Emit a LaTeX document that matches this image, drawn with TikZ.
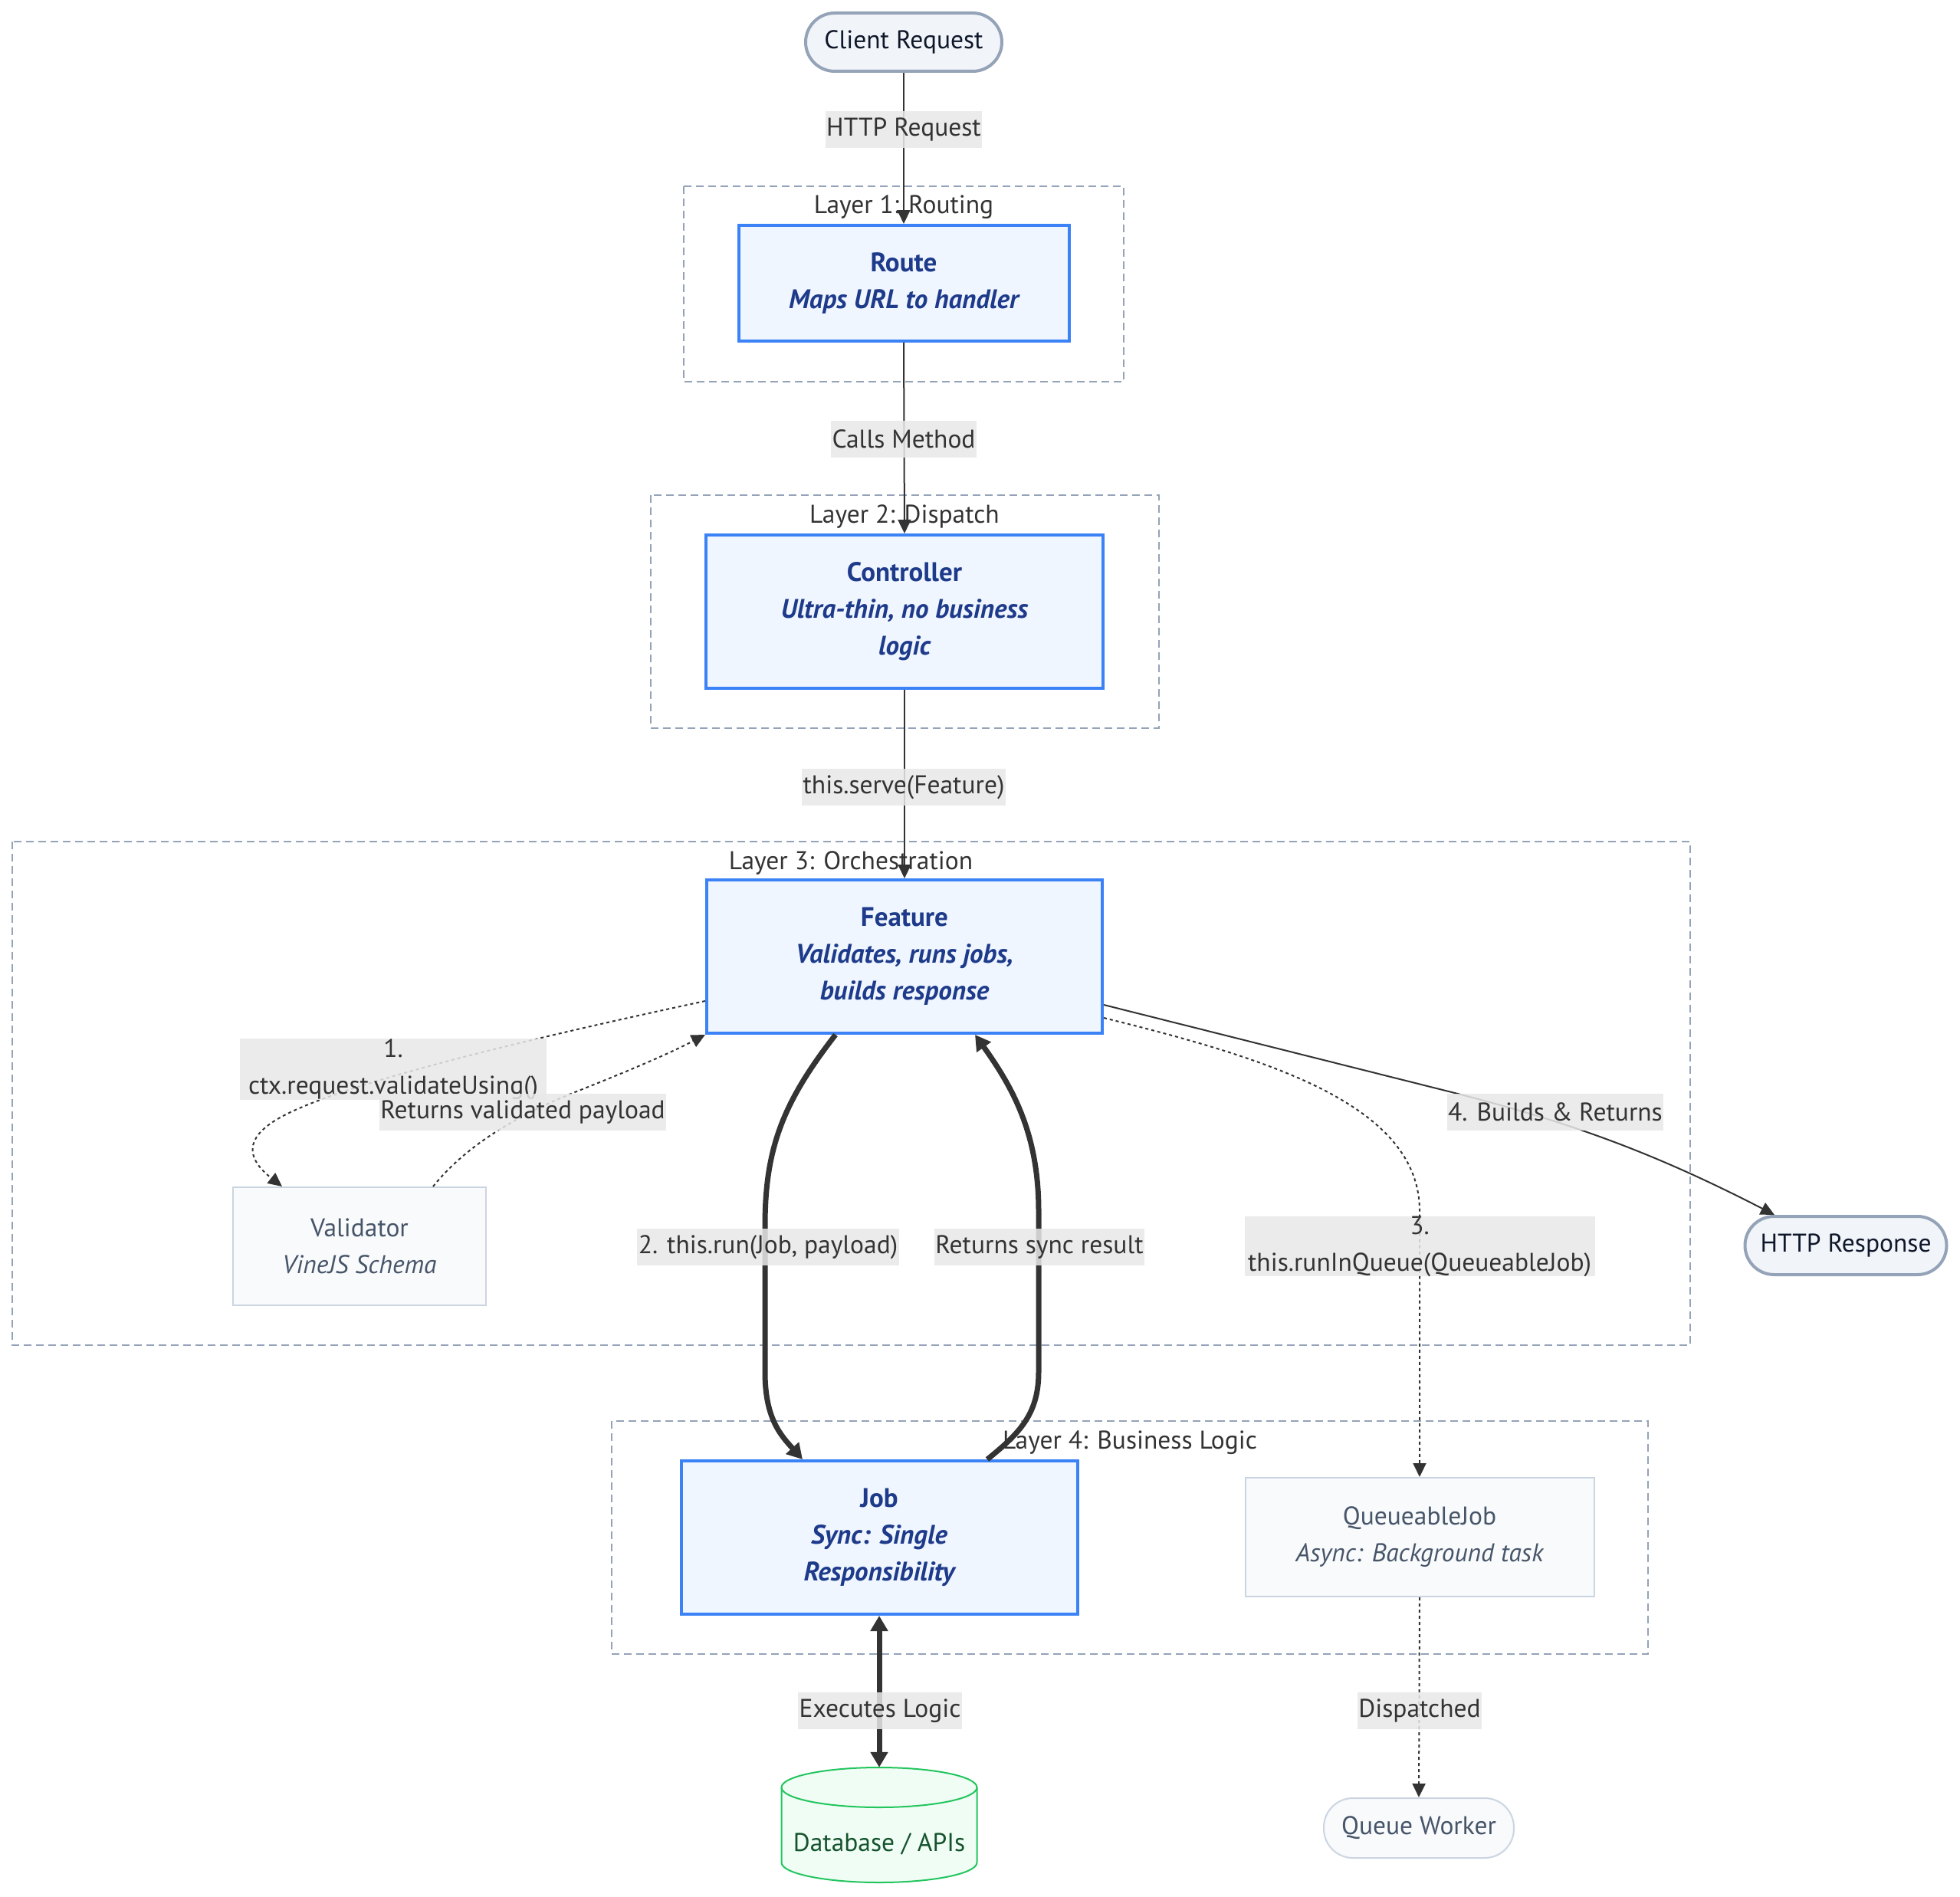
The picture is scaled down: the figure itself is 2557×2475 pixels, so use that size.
\documentclass[tikz,border=0pt]{standalone}
\usepackage{fontspec}
\setmainfont{PT Sans}
\usetikzlibrary{arrows.meta,calc}
\definecolor{primF}{HTML}{EFF6FF}
\definecolor{primS}{HTML}{3B82F6}
\definecolor{primT}{HTML}{1E3A8A}
\definecolor{secF}{HTML}{F8FAFC}
\definecolor{secS}{HTML}{CBD5E1}
\definecolor{secT}{HTML}{475569}
\definecolor{termF}{HTML}{F1F5F9}
\definecolor{termS}{HTML}{94A3B8}
\definecolor{termT}{HTML}{0F172A}
\definecolor{dbF}{HTML}{F0FDF4}
\definecolor{dbS}{HTML}{22C55E}
\definecolor{dbT}{HTML}{14532D}
\definecolor{clS}{HTML}{94A3B8}
\definecolor{labF}{HTML}{E8E8E8}
\definecolor{labT}{HTML}{333333}
\definecolor{edgeC}{HTML}{333333}
\begin{document}
\begin{tikzpicture}[x=1pt,y=-1pt,
  base/.style={font=\fontsize{33.5}{48}\selectfont, align=center, inner sep=0pt},
  prim/.style={base, font=\fontsize{35}{48}\selectfont, draw=primS, fill=primF, line width=4pt, text=primT},
  sec/.style={base, draw=secS, fill=secF, line width=2pt, text=secT},
  term/.style={base, draw=termS, fill=termF, line width=4pt, text=termT, rounded corners=38pt},
  cluster/.style={draw=clS, line width=2pt, dash pattern=on 10pt off 6pt},
  ctitle/.style={base, text=labT},
  elabel/.style={base, fill=labF, fill opacity=0.85, text opacity=1, text=labT, inner xsep=1.5pt, minimum height=48pt},
  conn/.style={draw=edgeC, line width=2pt, -{Triangle[length=18pt,width=17pt]}},
  dotconn/.style={conn, dash pattern=on 4pt off 4pt},
  thickconn/.style={draw=edgeC, line width=7pt, -{Triangle[length=20pt,width=22pt]}},
]
\useasboundingbox (0,0) rectangle (2557,2475);

% clusters
\draw[cluster] (892,243) rectangle (1466,498);
\draw[cluster] (849,646) rectangle (1512,950);
\draw[cluster] (16,1098) rectangle (2205,1755);
\draw[cluster] (798,1854) rectangle (2150,2158);
\node[ctitle] (t1) at (1179,270) {Layer 1: Routing};
\node[ctitle] (t2) at (1180,674) {Layer 2: Dispatch};
\node[ctitle] (t3) at (1110,1126) {Layer 3: Orchestration};
\node[ctitle] (t4) at (1474,1882) {Layer 4: Business Logic};

% nodes
\node[term, minimum width=256pt, minimum height=76pt] (client) at (1179,55) {Client Request};
\node[prim, minimum width=431pt, minimum height=151pt] (route) at (1179,369.5) {{\bfseries Route}\\{\bfseries\itshape Maps URL to handler}};
\node[prim, minimum width=518pt, minimum height=200pt] (ctrl) at (1180,798) {{\bfseries Controller}\\{\bfseries\itshape Ultra-thin, no business}\\{\bfseries\itshape logic}};
\node[prim, minimum width=516pt, minimum height=200pt] (feature) at (1180,1248) {{\bfseries Feature}\\{\bfseries\itshape Validates, runs jobs,}\\{\bfseries\itshape builds response}};
\node[sec, minimum width=330pt, minimum height=154pt] (validator) at (469,1626) {Validator\\{\itshape VineJS Schema}};
\node[term, minimum width=263pt, minimum height=76pt] (resp) at (2408,1625) {HTTP Response};
\node[prim, minimum width=517pt, minimum height=200pt] (job) at (1147,2006) {{\bfseries Job}\\{\bfseries\itshape Sync: Single}\\{\bfseries\itshape Responsibility}};
\node[sec, minimum width=455pt, minimum height=155pt] (qjob) at (1852,2005.5) {QueueableJob\\{\itshape Async: Background task}};
% database cylinder
\fill[dbF] (1019.5,2332) -- (1019.5,2430) arc (180:0:127.5 and 26) -- (1274.5,2332) arc (0:-180:127.5 and 26) -- cycle;
\draw[dbS, line width=2pt] (1019.5,2332) -- (1019.5,2430) arc (180:0:127.5 and 26) -- (1274.5,2332) arc (0:-180:127.5 and 26) -- cycle;
\draw[dbS, line width=2pt] (1019.5,2332) arc (180:0:127.5 and 26);
\node[base, minimum width=255pt, minimum height=152pt] (db) at (1147,2382) {};
\node[base, text=dbT] (dbtext) at (1147,2406) {Database / APIs};
\node[sec, rounded corners=38pt, minimum width=248pt, minimum height=78pt] (qworker) at (1851,2385) {Queue Worker};

% edges
\draw[conn] (client.south) -- (route.north);
\draw[conn] (route.south) -- (ctrl.north);
\draw[conn] (ctrl.south) -- (feature.north);
\draw[dotconn] ([yshift=-58pt]feature.west) .. controls (640,1366) and (430,1420) .. (362,1460) .. controls (318,1486) and (322,1512) .. ([xshift=-101pt]validator.north);
\draw[dotconn] ([xshift=96pt]validator.north) .. controls (610,1492) and (680,1452) .. (760,1421) .. controls (820,1397) and (870,1376) .. (feature.south west);
\draw[thickconn] ([xshift=-90pt]feature.south) .. controls (1020,1440) and (998,1500) .. (998,1600) -- (998,1790) .. controls (998,1850) and (1018,1872) .. ([xshift=-100pt]job.north);
\draw[thickconn] ([xshift=141pt]job.north) .. controls (1330,1870) and (1355,1845) .. (1355,1790) -- (1355,1580) .. controls (1355,1480) and (1322,1420) .. ([xshift=92pt]feature.south);
\draw[dotconn] ([yshift=-80pt]feature.east) .. controls (1650,1380) and (1852,1440) .. (1852,1580) -- (qjob.north);
\draw[conn] ([yshift=-63pt]feature.east) -- (1890,1424) .. controls (2040,1462) and (2150,1500) .. ([xshift=-93pt]resp.north);
\draw[thickconn, {Triangle[length=20pt,width=22pt]}-{Triangle[length=20pt,width=22pt]}] (job.south) -- (db.north);
\draw[dotconn] (qjob.south) -- (qworker.north);

% edge labels
\node[elabel] (lhttp) at (1179,169) {HTTP Request};
\node[elabel] (lcalls) at (1179,573) {Calls Method};
\node[elabel] (lserve) at (1179,1027) {this.serve(Feature)};
\node[elabel, minimum width=400pt] (lval) at (513,1395) {1.\\ctx.request.validateUsing()};
\node[elabel] (lret) at (682,1451) {Returns validated payload};
\node[elabel] (lrun) at (1002,1627) {2. this.run(Job, payload)};
\node[elabel] (lsync) at (1356,1627) {Returns sync result};
\node[elabel, minimum width=457pt] (lqueue) at (1852,1626) {3.\\this.runInQueue(QueueableJob)};
\node[elabel] (lbuild) at (2029,1451) {4. Builds \& Returns};
\node[elabel] (lexec) at (1148,2232) {Executes Logic};
\node[elabel] (ldisp) at (1852,2232) {Dispatched};
\end{tikzpicture}
\end{document}
